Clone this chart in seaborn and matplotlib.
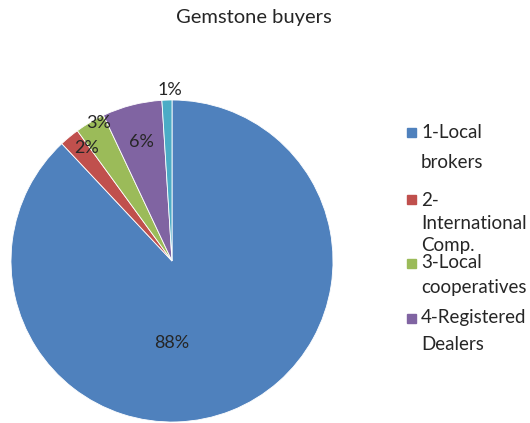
import numpy as np
import matplotlib.pyplot as plt
import seaborn as sns
from matplotlib.patches import Rectangle

sns.set_theme(style='white')
plt.rcParams['font.family'] = ['Lato', 'DejaVu Sans']

# data
categories = ['1-Local\nbrokers', '2-\nInternational\nComp.', '3-Local\ncooperatives',
              '4-Registered\nDealers', '5-Other']
shares = [88, 2, 3, 6, 1]
pct_labels = ['88%', '2%', '3%', '6%', '1%']
colors = ['#4F81BD', '#C0504D', '#9BBB59', '#8064A2', '#4BACC6']

fig = plt.figure(figsize=(5.3, 4.23), dpi=100)
W, H = 530, 423
cx, cy, r = 172, 261, 161
ax = fig.add_axes([(cx - r) / W, (H - cy - r) / H, 2 * r / W, 2 * r / H])

wedges, _ = ax.pie(shares, colors=colors, startangle=90, counterclock=False,
                   wedgeprops=dict(edgecolor='white', linewidth=0.6))
ax.set_xlim(-1, 1)
ax.set_ylim(-1, 1)
ax.set_aspect('equal')
ax.axis('off')

# label placement: distance (fraction of radius) and angle shift from slice middle
label_dist = [0.51, 0.88, 0.97, 0.76, 1.06]
label_shift = [-22, -2.7, -2.7, 0, -1.1]
for w, lab, d, s in zip(wedges, pct_labels, label_dist, label_shift):
    ang = np.deg2rad((w.theta1 + w.theta2) / 2 + s)
    ax.text(d * np.cos(ang), d * np.sin(ang), lab, ha='center', va='center',
            fontsize=13, color='#262626', clip_on=False)

fig.text(254 / W, 1 - 17 / H, 'Gemstone buyers', ha='center', va='center',
         fontsize=14.5, color='#262626')

# legend (first four categories only)
leg_y = [133, 200, 263, 318]
leg_step = [29, 23, 25, 27]
for name, col, y, step in zip(categories[:4], colors[:4], leg_y, leg_step):
    fig.add_artist(Rectangle((407 / W, 1 - (y + 4.5) / H), 9 / W, 9 / H,
                             transform=fig.transFigure, color=col))
    for i, line in enumerate(name.split('\n')):
        fig.text(421 / W, 1 - (y + i * step) / H, line, ha='left', va='center',
                 fontsize=13.5, color='#262626')

fig.savefig('out.png', dpi=100)
